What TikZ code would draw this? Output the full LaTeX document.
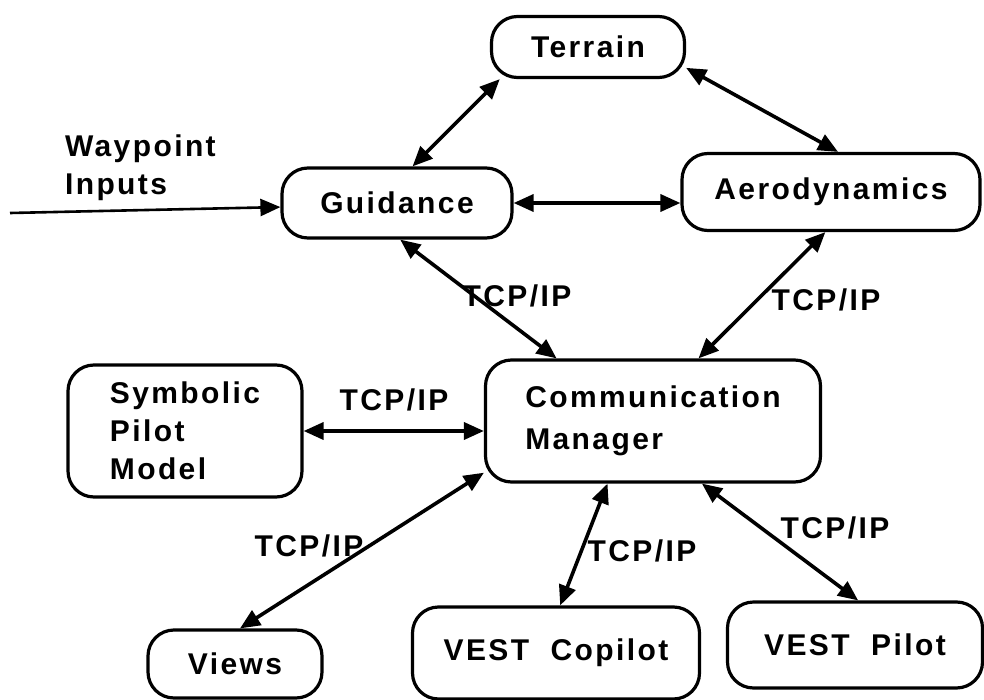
\documentclass[tikz,border=0pt]{standalone}
\usepackage{fontspec}
\newfontfamily\helv{Liberation Sans}[LetterSpace=8]
\usetikzlibrary{arrows.meta}

\begin{document}
\begin{tikzpicture}[
    x=0.5pt, y=-0.5pt,
    every node/.style={font=\helv\bfseries\fontsize{15}{19}\selectfont},
    box/.style={draw, line width=1.6pt, rounded corners=13pt, align=center, inner sep=0pt},
    link/.style={{Triangle[length=10pt,width=8.5pt]}-{Triangle[length=10pt,width=8.5pt]}, line width=1.8pt},
    feed/.style={-{Triangle[length=10pt,width=8.5pt]}, line width=1.3pt},
]
    \useasboundingbox (0,0) rectangle (984,700);

    % Top: simulation modules
    \node[box, minimum width=96.5pt, minimum height=30.5pt] (terr) at (588,47) {Terrain};
    \node[box, minimum width=115pt, minimum height=35pt] (guid) at (397,203) {Guidance};
    \node[box, minimum width=149pt, minimum height=38.5pt] (aero) at (831,192) {Aerodynamics};

    % Middle: manager and pilot model
    \node[box, align=left, minimum width=117pt, minimum height=66pt] (sym) at (185,431) {Symbolic\\Pilot\\Model};
    \node[box, align=left, minimum width=167.5pt, minimum height=61pt] (comm) at (653,421) {Communication\\[2pt]Manager};

    % Bottom: displays
    \node[box, minimum width=87pt, minimum height=34pt] (views) at (235,664) {Views};
    \node[box, minimum width=143.5pt, minimum height=46pt] (copi) at (556,653) {VEST~~Copilot};
    \node[box, minimum width=127.5pt, minimum height=43pt] (pilot) at (855,645) {VEST~~Pilot};

    % Input
    \node[align=left, anchor=west] (wayp) at (58,168) {Waypoint\\Inputs};
    \coordinate (src) at (10,213);
    \draw[feed] (src) -- (guid.182);

    % Links
    \draw[link] (guid.67) -- (terr.200);
    \draw[link] (terr.-12) -- (aero.80);
    \draw[link] (guid.east) -- (guid.east -| aero.west);
    \draw[link] (guid.-85) -- (comm.147);
    \draw[link] (aero.-98) -- (comm.54);
    \draw[link] (sym.east) -- (sym.east -| comm.west);
    \draw[link] (comm.197) -- (views.82);
    \draw[link] (comm.234) -- (copi.85);
    \draw[link] (comm.-52) -- (pilot.86);

    % Protocol labels
    \node (tcpGuid) at (517,296) {TCP/IP};
    \node (tcpAero) at (826,300) {TCP/IP};
    \node (tcpSym) at (394,400) {TCP/IP};
    \node (tcpViews) at (309,546) {TCP/IP};
    \node (tcpCopi) at (642,551) {TCP/IP};
    \node (tcpPilot) at (835,528) {TCP/IP};
\end{tikzpicture}
\end{document}
